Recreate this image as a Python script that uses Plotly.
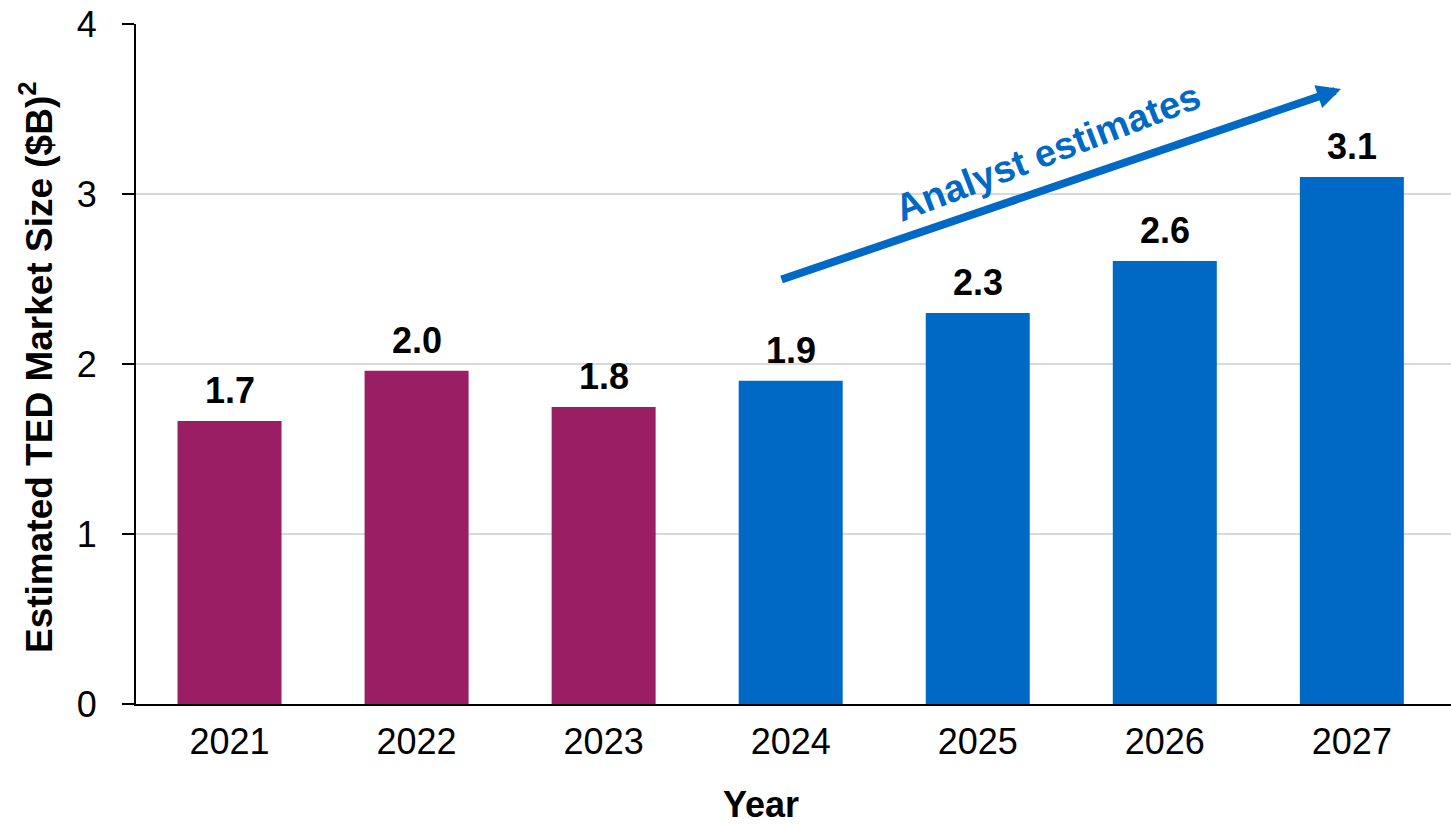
import plotly.graph_objects as go

years = ["2021", "2022", "2023", "2024", "2025", "2026", "2027"]
values = [1.665, 1.96, 1.747, 1.902, 2.30, 2.606, 3.10]
labels = ["1.7", "2.0", "1.8", "1.9", "2.3", "2.6", "3.1"]
kinds = ["actual", "actual", "actual", "estimate", "estimate", "estimate", "estimate"]
y_ticks = [0, 1, 2, 3, 4]

PURPLE = "#9A1E63"
BLUE = "#0069C5"
FONT = "Liberation Sans, Arial, sans-serif"

colors = [PURPLE if k == "actual" else BLUE for k in kinds]

fig = go.Figure()
fig.add_trace(go.Bar(
    x=years, y=values, marker=dict(color=colors, line=dict(width=0)),
    width=0.556, showlegend=False, hoverinfo="skip",
))

annotations = []
for i, (v, lab) in enumerate(zip(values, labels)):
    annotations.append(dict(
        x=i, y=v, xref="x", yref="y", text="<b>" + lab + "</b>", showarrow=False,
        xanchor="center", yanchor="bottom", yshift=8,
        font=dict(family=FONT, size=36, color="black"),
    ))

# Analyst estimates arrow
annotations.append(dict(
    x=5.942, y=3.618, ax=2.943, ay=2.494, xref="x", yref="y", axref="x", ayref="y",
    text="", showarrow=True, arrowhead=2, arrowsize=0.6, arrowwidth=8,
    arrowcolor=BLUE, standoff=0, startstandoff=0,
))
annotations.append(dict(
    x=4.375, y=3.25, xref="x", yref="y", text="<b>Analyst estimates</b>",
    showarrow=False, textangle=-21, font=dict(family=FONT, size=38, color=BLUE),
))
# Axis titles
annotations.append(dict(
    x=0, y=0.4956, xref="paper", yref="paper", xshift=-99, xanchor="center", yanchor="middle",
    text="<b>Estimated TED Market Size ($B)<sup>2</sup></b>", textangle=-90,
    showarrow=False, font=dict(family=FONT, size=37, color="black"),
))
annotations.append(dict(
    x=0.4753, y=0, xref="paper", yref="paper", yshift=-100, xanchor="center", yanchor="middle",
    text="<b>Year</b>", showarrow=False, font=dict(family=FONT, size=36, color="black"),
))

fig.update_layout(
    width=1451, height=825,
    margin=dict(l=136, r=0, t=24, b=121),
    paper_bgcolor="white", plot_bgcolor="white",
    font=dict(family=FONT, size=36, color="black"),
    annotations=annotations,
)
fig.update_xaxes(
    type="category", range=[-0.5, 6.53], showline=True, linecolor="black", linewidth=2,
    ticks="", showgrid=False, tickfont=dict(family=FONT, size=36, color="black"),
    ticklabelstandoff=5, fixedrange=True,
)
fig.update_yaxes(
    range=[0, 4], tickvals=y_ticks, showline=True, linecolor="black", linewidth=2,
    ticks="outside", ticklen=12, tickwidth=2, tickcolor="black",
    showgrid=True, gridcolor="#D9D9D9", gridwidth=2, zeroline=False,
    tickfont=dict(family=FONT, size=36, color="black"), ticklabelstandoff=18,
    fixedrange=True,
)

fig.write_html("out.html")
